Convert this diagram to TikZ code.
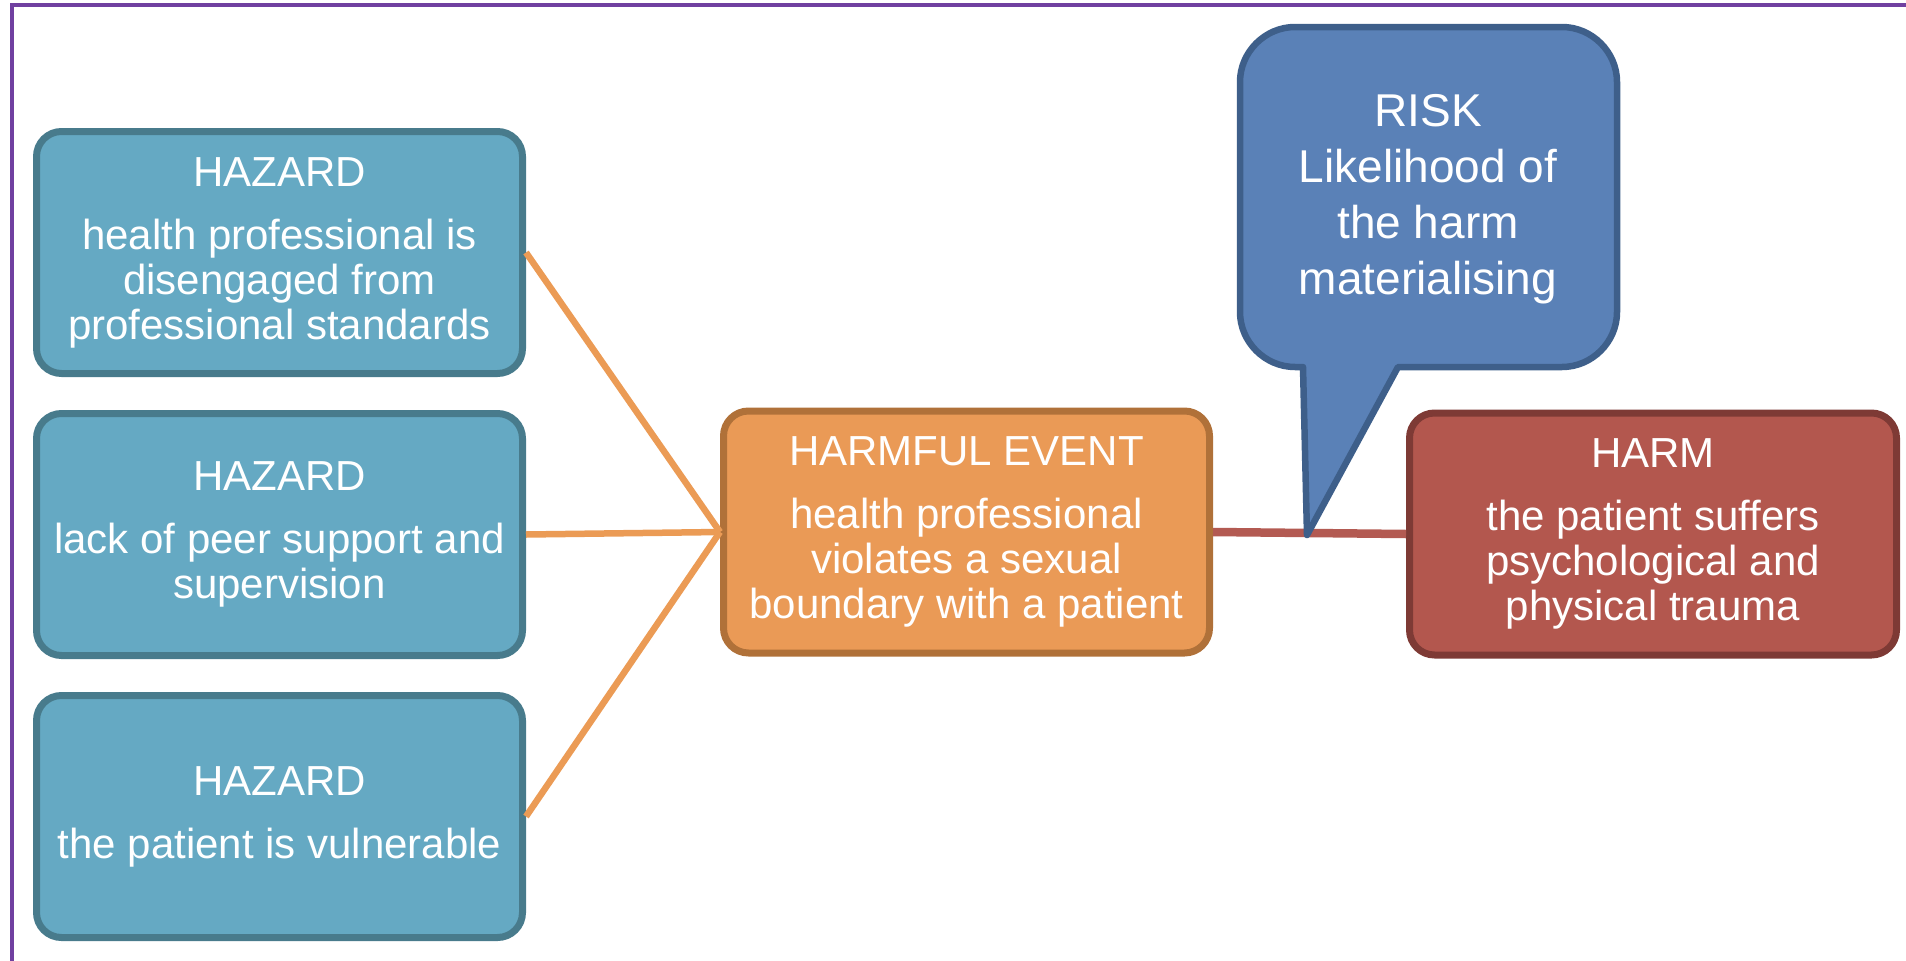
\documentclass[tikz,border=0pt]{standalone}
\usepackage{fontspec}
\setmainfont{Liberation Sans}
\definecolor{hazfill}{RGB}{101,169,195}
\definecolor{hazline}{RGB}{72,123,140}
\definecolor{evfill}{RGB}{234,154,86}
\definecolor{evline}{RGB}{176,113,57}
\definecolor{harmfill}{RGB}{179,87,78}
\definecolor{harmline}{RGB}{126,58,53}
\definecolor{riskfill}{RGB}{90,129,183}
\definecolor{riskline}{RGB}{62,95,138}
\definecolor{orangeln}{RGB}{235,155,85}
\definecolor{redln}{RGB}{179,90,82}
\definecolor{framecol}{RGB}{112,64,160}
\begin{document}
\begin{tikzpicture}[x=1pt,y=-1pt,
  box/.style={rounded corners=25pt, line width=7pt, text=white, align=center,
    font=\fontsize{42}{45}\selectfont, inner sep=0pt,
    minimum width=486pt, minimum height=242pt},
  hazbox/.style={box, draw=hazline, fill=hazfill},
  evbox/.style={box, draw=evline, fill=evfill},
  harmbox/.style={box, draw=harmline, fill=harmfill, minimum width=487pt},
  orangelink/.style={draw=orangeln, line width=6.5pt},
  redlink/.style={draw=redln, line width=8.5pt}]
\useasboundingbox (0,0) rectangle (1906,961);
\draw[framecol, line width=4pt] (12,961) -- (12,5) -- (1906,5);

\node[hazbox] (h1) at (279.5,252.5) {HAZARD\\[18pt]health professional is\\disengaged from\\professional standards};
\node[hazbox] (h2) at (279.5,534.5) {HAZARD\\[18pt]lack of peer support and\\supervision};
\node[hazbox] (h3) at (279.5,816.5) {HAZARD\\[18pt]the patient is vulnerable};
\node[evbox] (ev) at (966.5,532) {HARMFUL EVENT\\[18pt]health professional\\violates a sexual\\boundary with a patient};
\node[harmbox] (harm) at (1653,534) {HARM\\[18pt]the patient suffers\\psychological and\\physical trauma};

\draw[orangelink] (h1.east) -- (ev.west);
\draw[orangelink] (h2.east) -- (ev.west);
\draw[orangelink] (h3.east) -- (ev.west);
\draw[redlink] (ev.east) -- (harm.west);

\draw[draw=riskline, fill=riskfill, line width=6.5pt, line join=round]
  (1303,367) -- (1307,535) -- (1398,367) -- (1562,367)
  .. controls (1592,367) and (1617,342) .. (1617,312) -- (1617,82)
  .. controls (1617,52) and (1592,27) .. (1562,27) -- (1295,27)
  .. controls (1265,27) and (1240,52) .. (1240,82) -- (1240,312)
  .. controls (1240,342) and (1265,367) .. (1295,367) -- cycle;
\node[text=white, align=center, font=\fontsize{46}{56}\selectfont] (risk) at (1428,199) {RISK\\Likelihood of\\the harm\\materialising};
\end{tikzpicture}
\end{document}
